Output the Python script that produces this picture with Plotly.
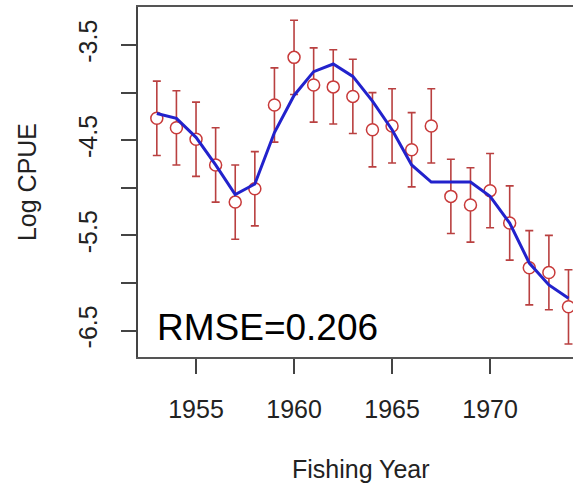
import plotly.graph_objects as go

years = list(range(1953, 1975))
obs = [-4.27, -4.37, -4.49, -4.76, -5.15, -5.01, -4.13, -3.63, -3.92, -3.94, -4.04,
       -4.39, -4.35, -4.60, -4.35, -5.09, -5.18, -5.03, -5.37, -5.84, -5.89, -6.25]
err = [0.39, 0.39, 0.39, 0.39, 0.39, 0.39, 0.39, 0.39, 0.39, 0.39, 0.39,
       0.39, 0.39, 0.39, 0.39, 0.39, 0.39, 0.39, 0.39, 0.39, 0.39, 0.39]
fit = [-4.22, -4.27, -4.47, -4.76, -5.07, -4.96, -4.42, -4.03, -3.78, -3.70, -3.83,
       -4.09, -4.39, -4.76, -4.94, -4.94, -4.94, -5.09, -5.37, -5.79, -6.02, -6.16]
ytick_vals = [-3.5, -4.0, -4.5, -5.0, -5.5, -6.0, -6.5]
ytick_text = ["-3.5", "", "-4.5", "", "-5.5", "", "-6.5"]
xtick_vals = [1955, 1960, 1965, 1970]
xtick_text = ["1955", "1960", "1965", "1970"]

FONT = "Liberation Sans, Arial, sans-serif"

fig = go.Figure()
fig.add_trace(go.Scatter(
    x=years, y=obs, mode="markers",
    marker=dict(symbol="circle", size=12, color="white",
                line=dict(color="#C83A3A", width=1.5)),
    error_y=dict(type="data", array=err, visible=True, color="#B94040",
                 thickness=1.6, width=4),
    showlegend=False, hoverinfo="skip"))
fig.add_trace(go.Scatter(
    x=years, y=fit, mode="lines",
    line=dict(color="#2222CC", width=3),
    showlegend=False, hoverinfo="skip"))

fig.update_layout(
    width=573, height=483,
    margin=dict(l=138, r=0, t=7, b=126),
    paper_bgcolor="white", plot_bgcolor="white",
    font=dict(family=FONT, size=25, color="#222222"),
    xaxis=dict(range=[1952.04, 1974.23], tickvals=xtick_vals, ticktext=xtick_text,
               showgrid=False, zeroline=False, showline=True, linecolor="#555555",
               linewidth=2, mirror=True, ticks="outside", ticklen=15, tickwidth=1.5,
               tickcolor="#444444", ticklabelstandoff=14,
               tickfont=dict(family=FONT, size=25, color="#222222")),
    yaxis=dict(range=[-6.777, -3.101], tickvals=ytick_vals, ticktext=ytick_text,
               showgrid=False, zeroline=False, showline=True, linecolor="#444444",
               linewidth=2, mirror=False, ticks="outside", ticklen=15, tickwidth=1.5,
               tickcolor="#444444", tickangle=-90, ticklabelstandoff=14,
               tickfont=dict(family=FONT, size=25, color="#222222")),
    annotations=[
        dict(text="RMSE=0.206", xref="paper", yref="paper", x=0.04, y=0.083,
             xanchor="left", yanchor="middle", showarrow=False,
             font=dict(family=FONT, size=37, color="black")),
        dict(text="Fishing Year", xref="paper", yref="paper", x=0.5126, y=-0.32,
             xanchor="center", yanchor="middle", showarrow=False,
             font=dict(family=FONT, size=25, color="#222222")),
        dict(text="Log CPUE", xref="paper", yref="paper", x=-0.255, y=0.5,
             xanchor="center", yanchor="middle", showarrow=False, textangle=-90,
             font=dict(family=FONT, size=25, color="#222222")),
    ],
)

fig.write_html("out.html")
